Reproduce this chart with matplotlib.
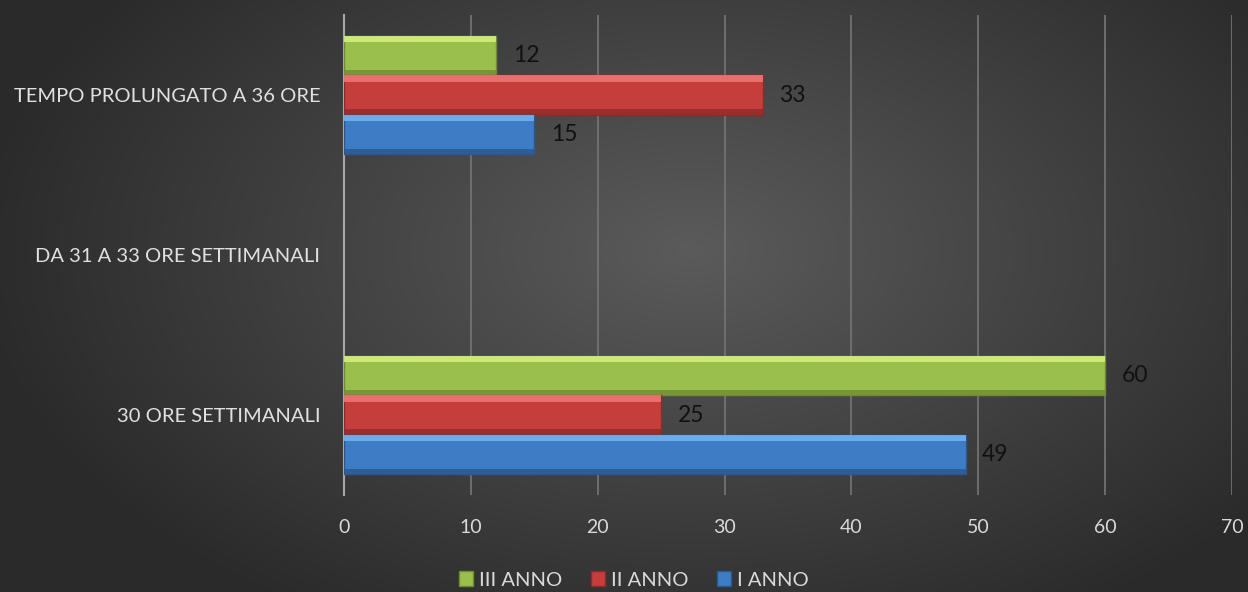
import numpy as np
import matplotlib
matplotlib.use("Agg")
import matplotlib.pyplot as plt

categories = ["30 ORE SETTIMANALI", "DA 31 A 33 ORE SETTIMANALI", "TEMPO PROLUNGATO A 36 ORE"]
series_names = ["III ANNO", "II ANNO", "I ANNO"]
anno_III = [60, 0, 12]
anno_II = [25, 0, 33]
anno_I = [49, 0, 15]
xticks = [0, 10, 20, 30, 40, 50, 60, 70]

plt.rcParams['font.family'] = ['Lato', 'DejaVu Sans']

fig = plt.figure(figsize=(12.48, 5.92), dpi=100)

# radial gradient background
bg = fig.add_axes([0, 0, 1, 1], zorder=-10)
H, W = 592, 1248
yy, xx = np.mgrid[0:H, 0:W]
cx, cy = 690, 250
r = np.sqrt(((xx - cx) / 720.0) ** 2 + ((yy - cy) / 430.0) ** 2)
r = np.clip(r, 0, 1)
inner, outer = 0x5b, 0x2a
val = (inner + (outer - inner) * r) / 255.0
img = np.dstack([val, val, val])
bg.imshow(img, aspect='auto', extent=[0, 1, 0, 1], origin='upper')
bg.axis('off')

ax = fig.add_axes([344 / W, 1 - 495 / H, (1232 - 344) / W, (495 - 15) / H])
ax.patch.set_alpha(0)

y = np.arange(len(categories))
h = 0.247
specs = [
    (anno_III, +h, "#9bbf4c", "#d2ee7e", "#6f8c33", "III ANNO"),
    (anno_II, 0.0, "#c53e3c", "#f07474", "#8e2a28", "II ANNO"),
    (anno_I, -h, "#3f7cc6", "#70b2f2", "#2a578f", "I ANNO"),
]
for vals, off, col, hi, lo, name in specs:
    lws = [1.0 if v > 0 else 0.0 for v in vals]
    ax.barh(y + off, vals, height=h, color=col, edgecolor=lo, linewidth=lws, zorder=3, label=name)
    # top highlight
    ax.barh(y + off + h * 0.42, vals, height=h * 0.16, color=hi, linewidth=0, zorder=4, alpha=0.9)
    # bottom shade
    ax.barh(y + off - h * 0.43, vals, height=h * 0.14, color=lo, linewidth=0, zorder=4, alpha=0.8)
    for yi, v in zip(y + off, vals):
        if v > 0:
            ax.text(v + 1.3, yi, str(v), va='center', ha='left', fontsize=16.5, color='#111111', zorder=5)

ax.set_xlim(0, 70)
ax.set_ylim(-0.5, 2.5)
ax.set_xticks(xticks)
ax.set_xticklabels([str(t) for t in xticks], fontsize=14, color='#d9d9d9')
ax.set_yticks(y)
ax.set_yticklabels(categories, fontsize=14.5, color='#e0e0e0')
ax.tick_params(axis='both', length=0)
ax.tick_params(axis='x', pad=17)
ax.tick_params(axis='y', pad=17)
ax.grid(axis='x', color='#727272', linewidth=1.3, zorder=0)
ax.set_axisbelow(True)
for s in ['top', 'right', 'bottom']:
    ax.spines[s].set_visible(False)
ax.spines['left'].set_color('#a8a8a8')
ax.spines['left'].set_linewidth(1.5)

handles, labels = ax.get_legend_handles_labels()
leg = fig.legend(handles, labels, loc='center', bbox_to_anchor=(0.508, 1 - 580 / H), ncol=3,
                 frameon=False, fontsize=14.5, handlelength=0.7, handleheight=0.7,
                 handletextpad=0.3, columnspacing=1.4)
for t in leg.get_texts():
    t.set_color('#d9d9d9')

fig.savefig('out.png', dpi=100)
